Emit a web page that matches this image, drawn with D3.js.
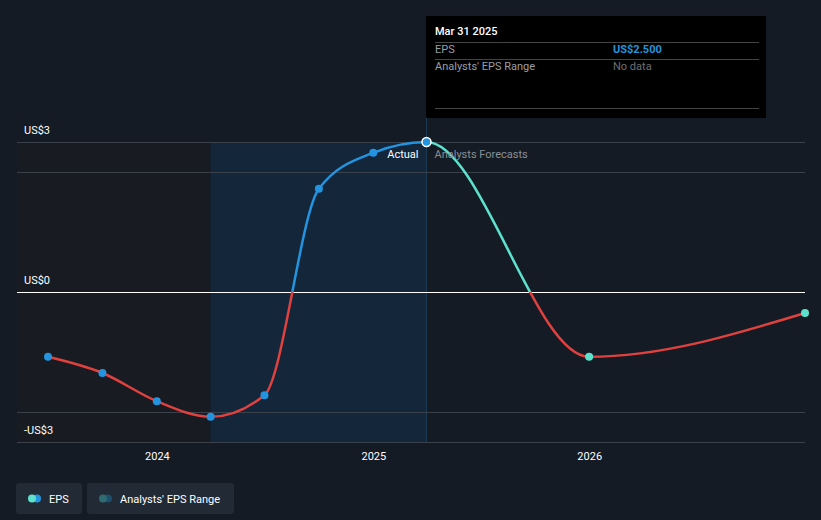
<!DOCTYPE html>
<html><head><meta charset="utf-8">
<script src="https://cdn.jsdelivr.net/npm/d3@7"></script>
<style>body{margin:0;background:#151b24;font-family:Roboto,sans-serif}</style>
</head><body><svg id="c" width="821" height="520"></svg>
<script>
const actualDates=["2023-06-30","2023-09-30","2023-12-31","2024-03-31","2024-06-30","2024-09-30","2024-12-31","2025-03-31"];
const actualEps=[-1.08,-1.35,-1.82,-2.08,-1.72,1.72,2.32,2.5];
const forecastDates=["2025-03-31","2025-12-31","2026-12-31"];
const forecastEps=[2.5,-1.08,-0.35];
const yTicks=[3,0,-3];
const yTickLabels=["US$3","US$0","-US$3"];
const xTicks=["2024-01-01","2025-01-01","2026-01-01"];
const p=d3.timeParse("%Y-%m-%d");
const svg=d3.select("#c");
svg.append("rect").attr("width",821).attr("height",520).attr("fill","#151b24");
const x=d3.scaleTime().domain([p("2023-06-30"),p("2026-12-31")]).range([48,805]);
const y=d3.scaleLinear().domain([-2.5,2.5]).range([442,142]);
const L=17,R=805;
const xs=x(p("2024-03-31")), xe=x(p("2025-03-31"));
svg.append("rect").attr("x",L).attr("y",142).attr("width",xs-L).attr("height",300).attr("fill","#181c22");
svg.append("rect").attr("x",xs).attr("y",142).attr("width",xe-xs).attr("height",300).attr("fill","#13263a");
svg.append("line").attr("x1",xe).attr("x2",xe).attr("y1",20).attr("y2",442).attr("stroke","#1f3a55").attr("stroke-width",1);
[2.5,2,-2,-2.5].forEach(v=>svg.append("line").attr("x1",L).attr("x2",R).attr("y1",Math.round(y(v))+0.5).attr("y2",Math.round(y(v))+0.5).attr("stroke","#3a414b").attr("stroke-width",1));
svg.append("line").attr("x1",L).attr("x2",R).attr("y1",y(0)+0.5).attr("y2",y(0)+0.5).attr("stroke","#fff").attr("stroke-width",1);
const lblY={3:130,0:280,"-3":430};
yTicks.forEach((t,i)=>svg.append("text").attr("x",24).attr("y",lblY[t]+4).attr("fill","#fff").attr("font-size",11).text(yTickLabels[i]));
xTicks.forEach(t=>svg.append("text").attr("x",x(p(t))).attr("y",460).attr("text-anchor","middle").attr("fill","#fff").attr("font-size",11).text(t.slice(0,4)));
const defs=svg.append("defs");
defs.append("clipPath").attr("id","posA").append("rect").attr("x",0).attr("y",0).attr("width",xe).attr("height",y(0));
defs.append("clipPath").attr("id","posF").append("rect").attr("x",xe).attr("y",0).attr("width",821-xe).attr("height",y(0));
defs.append("clipPath").attr("id","neg").append("rect").attr("x",0).attr("y",y(0)).attr("width",821).attr("height",300);
const line=d3.line().x(d=>x(d[0])).y(d=>y(d[1])).curve(d3.curveMonotoneX);
const A=actualDates.map((d,i)=>[p(d),actualEps[i]]);
const F=forecastDates.map((d,i)=>[p(d),forecastEps[i]]);
const all=A.concat(F.slice(1));
const dPath=line(all);
svg.append("path").attr("d",dPath).attr("fill","none").attr("stroke","#2394df").attr("stroke-width",2.5).attr("clip-path","url(#posA)");
svg.append("path").attr("d",dPath).attr("fill","none").attr("stroke","#5ce1cc").attr("stroke-width",2.5).attr("clip-path","url(#posF)");
svg.append("path").attr("d",dPath).attr("fill","none").attr("stroke","#e0413f").attr("stroke-width",2.5).attr("clip-path","url(#neg)");
A.slice(0,-1).forEach(d=>svg.append("circle").attr("cx",x(d[0])).attr("cy",y(d[1])).attr("r",4).attr("fill","#2394df"));
F.slice(1).forEach(d=>svg.append("circle").attr("cx",x(d[0])).attr("cy",y(d[1])).attr("r",4).attr("fill","#5ce1cc"));
const last=A[A.length-1];
svg.append("circle").attr("cx",x(last[0])).attr("cy",y(last[1])).attr("r",4.5).attr("fill","#2394df").attr("stroke","#fff").attr("stroke-width",1.5);
svg.append("text").attr("x",x(last[0])-8).attr("y",158).attr("text-anchor","end").attr("fill","#fff").attr("font-size",11).text("Actual");
svg.append("text").attr("x",x(last[0])+8).attr("y",158).attr("fill","#8a8f96").attr("font-size",11).text("Analysts Forecasts");
const tt=svg.append("g").attr("transform","translate(426,16)");
tt.append("rect").attr("width",340).attr("height",102).attr("fill","#000");
tt.append("text").attr("x",9).attr("y",19).attr("fill","#fff").attr("font-size",11).attr("font-weight",500).text("Mar 31 2025");
[26,43,92].forEach(yy=>tt.append("line").attr("x1",9).attr("x2",333).attr("y1",yy+0.5).attr("y2",yy+0.5).attr("stroke","#444"));
tt.append("text").attr("x",9).attr("y",37).attr("fill","#9a9ea4").attr("font-size",11).text("EPS");
tt.append("text").attr("x",187).attr("y",37).attr("fill","#2394df").attr("font-size",11).attr("font-weight",700).text("US$2.500");
tt.append("text").attr("x",9).attr("y",54).attr("fill","#9a9ea4").attr("font-size",11).text("Analysts' EPS Range");
tt.append("text").attr("x",187).attr("y",54).attr("fill","#6b6f75").attr("font-size",11).text("No data");
function leg(x0,w,c1,c2,label){
 const g=svg.append("g").attr("transform",`translate(${x0},483)`);
 g.append("rect").attr("width",w).attr("height",31).attr("rx",3).attr("fill","#222a35");
 g.append("circle").attr("cx",21).attr("cy",15.5).attr("r",4).attr("fill",c2);
 g.append("circle").attr("cx",16).attr("cy",15.5).attr("r",4).attr("fill",c1);
 g.append("text").attr("x",33).attr("y",19.5).attr("fill","#fff").attr("font-size",11).text(label);
}
leg(16,66,"#5ce1cc","#2394df","EPS");
leg(87,147,"#2e6b73","#1e4f6e","Analysts' EPS Range");
</script></body></html>
